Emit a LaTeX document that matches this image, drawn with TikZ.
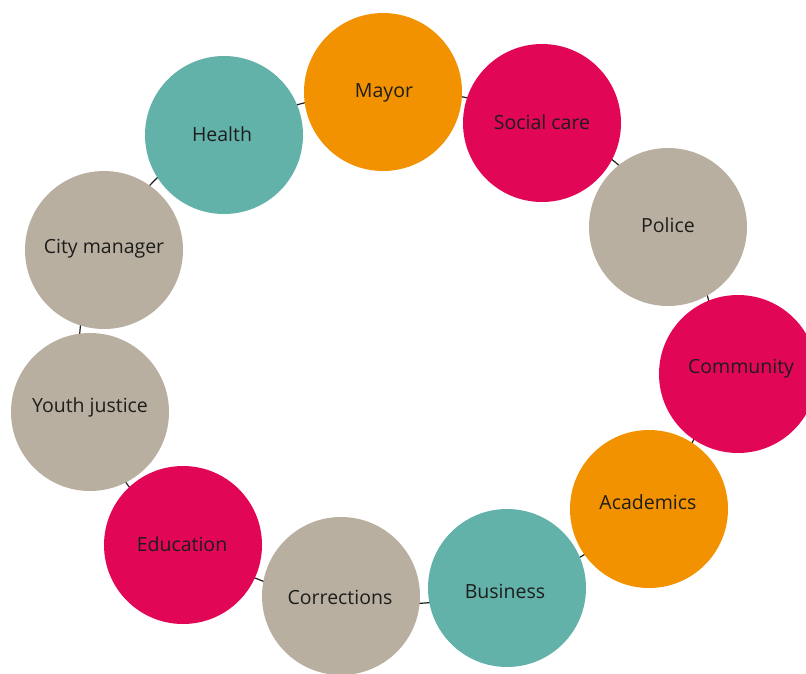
\documentclass[tikz,border=0pt]{standalone}
\usepackage{fontspec}
\setmainfont{Open Sans}
\usetikzlibrary{backgrounds}
\definecolor{corange}{HTML}{F39200}
\definecolor{cmagenta}{HTML}{E20656}
\definecolor{cteal}{HTML}{62B2AA}
\definecolor{ctaupe}{HTML}{B8AFA1}
\definecolor{ctext}{HTML}{1D1D1B}
\begin{document}
\begin{tikzpicture}[x=1pt,y=-1pt,
  blob/.style={circle,minimum size=158pt,inner sep=0pt},
  lbl/.style={font=\fontsize{19.5}{23}\selectfont,text=ctext,inner sep=0pt,yshift=-2pt},
  link/.style={draw=ctext,line width=1.2pt}]
\useasboundingbox (0,0) rectangle (806,673);
\clip (0,0) rectangle (806,673);
% circles
\node[blob,fill=corange]  (mayor)  at (383,92)  {};
\node[blob,fill=cmagenta] (social) at (542,123) {};
\node[blob,fill=ctaupe]   (police) at (668,227) {};
\node[blob,fill=cmagenta] (comm)   at (738,374) {};
\node[blob,fill=corange]  (acad)   at (649,509) {};
\node[blob,fill=cteal]    (bus)    at (507,588) {};
\node[blob,fill=ctaupe]   (corr)   at (341,596) {};
\node[blob,fill=cmagenta] (edu)    at (183,545) {};
\node[blob,fill=ctaupe]   (youth)  at (90,412)  {};
\node[blob,fill=ctaupe]   (city)   at (104,250) {};
\node[blob,fill=cteal]    (health) at (224,135) {};
% labels
\node[lbl] (lmayor)  at (384,91)  {Mayor};
\node[lbl] (lsocial) at (542,120) {Social care};
\node[lbl] (lpolice) at (668,223) {Police};
\node[lbl] (lcomm)   at (741,367) {Community};
\node[lbl] (lacad)   at (648,500) {Academics};
\node[lbl] (lbus)    at (505,589) {Business};
\node[lbl] (lcorr)   at (340,595) {Corrections};
\node[lbl] (ledu)    at (182,542) {Education};
\node[lbl] (lyouth)  at (90,405)  {Youth justice};
\node[lbl] (lcity)   at (104,247) {City manager};
\node[lbl] (lhealth) at (222,132) {Health};
% ring behind the circles, through the gaps
\coordinate (g1)  at (300,104);
\coordinate (g2)  at (463,97);
\coordinate (g3)  at (615,162);
\coordinate (g4)  at (708,298);
\coordinate (g5)  at (693,441);
\coordinate (g6)  at (582,556);
\coordinate (g7)  at (425,603);
\coordinate (g8)  at (260,580);
\coordinate (g9)  at (127,484);
\coordinate (g10) at (80,330);
\coordinate (g11) at (153,182);
\begin{scope}[on background layer]
\draw[link] plot[smooth cycle,tension=0.6] coordinates {(g1) (g2) (g3) (g4) (g5) (g6) (g7) (g8) (g9) (g10) (g11)};
\end{scope}
\end{tikzpicture}
\end{document}
